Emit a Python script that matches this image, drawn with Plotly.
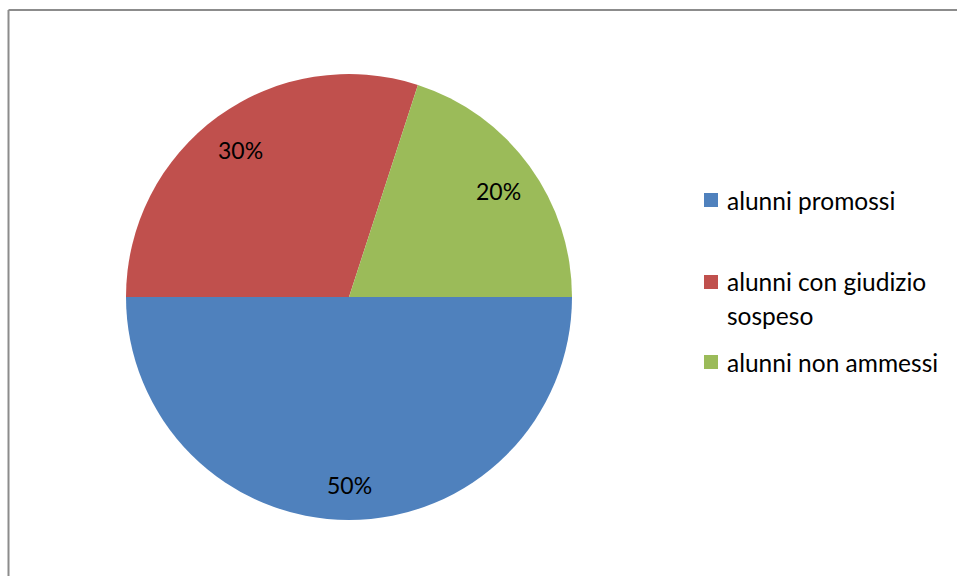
import math
import plotly.graph_objects as go

# ---- data ----
labels = ["alunni promossi", "alunni con giudizio sospeso", "alunni non ammessi"]
legend_lines = [["alunni promossi"], ["alunni con giudizio", "sospeso"], ["alunni non ammessi"]]
values = [50, 30, 20]
colors = ["#4F81BD", "#C0504D", "#9BBB59"]

W, H = 957, 576
FONT = "Lato"

# pie geometry (pixels)
cx, cy, r = 349, 297, 223
dom_x = [(cx - r) / W, (cx + r) / W]
dom_y = [(H - cy - r) / H, (H - cy + r) / H]

fig = go.Figure(go.Pie(
    labels=labels,
    values=values,
    sort=False,
    direction="clockwise",
    rotation=90,
    marker=dict(colors=colors, line=dict(width=0)),
    textinfo="none",
    hoverinfo="label+percent",
    showlegend=False,
    domain=dict(x=dom_x, y=dom_y),
))

# percentage labels placed at slice mid-angles
total = sum(values)
start = 90.0
for v in values:
    span = 360.0 * v / total
    mid = math.radians(start + span / 2)
    rr = 0.83 * r
    px = cx + rr * math.sin(mid)
    py = cy - rr * math.cos(mid)
    fig.add_annotation(x=px / W, y=1 - py / H, xref="paper", yref="paper",
                       text=f"{round(100 * v / total)}%", showarrow=False,
                       font=dict(family=FONT, size=23, color="#000000"),
                       xanchor="center", yanchor="middle", yshift=-3)
    start += span

# manual legend
leg_marker_x = 704
leg_text_x = 725
leg_item_y = [200, 282, 362]
line_gap = 33
sq = 14
for lines, col, y0 in zip(legend_lines, colors, leg_item_y):
    fig.add_shape(type="rect", xref="paper", yref="paper",
                  x0=leg_marker_x / W, x1=(leg_marker_x + sq) / W,
                  y0=1 - (y0 + sq / 2) / H, y1=1 - (y0 - sq / 2) / H,
                  fillcolor=col, line=dict(width=0))
    for i, ln in enumerate(lines):
        fig.add_annotation(x=leg_text_x / W, y=1 - (y0 + i * line_gap) / H,
                           xref="paper", yref="paper", text=ln, showarrow=False,
                           font=dict(family=FONT, size=24.5, color="#000000"),
                           xanchor="left", yanchor="middle")

# chart frame (top and left edges visible)
fx, fy = 8.5, 10
fig.add_shape(type="line", xref="paper", yref="paper",
              x0=fx / W, x1=1, y0=1 - fy / H, y1=1 - fy / H,
              line=dict(color="#8C8C8C", width=2))
fig.add_shape(type="line", xref="paper", yref="paper",
              x0=fx / W, x1=fx / W, y0=0, y1=1 - fy / H,
              line=dict(color="#8C8C8C", width=2))

fig.update_layout(
    width=W, height=H,
    margin=dict(l=0, r=0, t=0, b=0),
    paper_bgcolor="white",
    plot_bgcolor="white",
    font=dict(family=FONT, size=21, color="#000000"),
)

fig.write_html("out.html", config={"displayModeBar": False},
               post_script="document.body.style.margin='0';document.body.style.overflow='hidden';")
